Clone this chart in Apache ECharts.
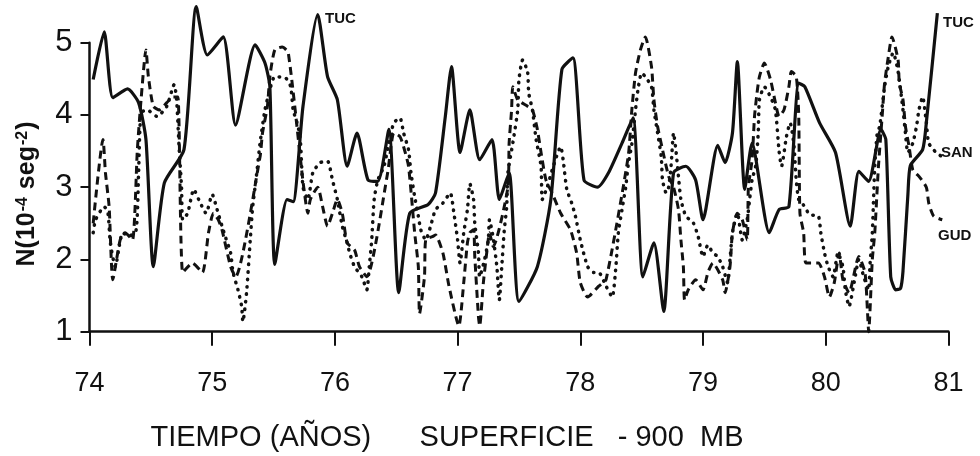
<!DOCTYPE html>
<html>
<head>
<meta charset="utf-8">
<script src="https://cdn.jsdelivr.net/npm/echarts@6/dist/echarts.min.js"></script>
<style>
html,body{margin:0;padding:0;background:#fff;}
#chart{width:980px;height:456px;}
</style>
</head>
<body>
<div id="chart"></div>
<script>
// Years (decimal) and N values (10^-4 seg^-2)
var yTicks = [1, 2, 3, 4, 5];
var xTicks = [74, 75, 76, 77, 78, 79, 80, 81];

var tuc = [
[74.03,4.49],[74.12,5.15],[74.19,4.24],[74.31,4.36],[74.40,4.17],[74.46,3.66],[74.52,1.90],[74.61,3.06],
[74.77,3.52],[74.87,5.50],[74.96,4.83],[75.09,5.08],[75.19,3.86],[75.35,4.97],[75.43,4.72],[75.47,4.39],
[75.51,1.93],[75.61,2.83],[75.66,2.80],[75.74,4.12],[75.86,5.39],[75.94,4.53],[76.02,4.21],[76.10,3.29],
[76.18,3.75],[76.27,3.10],[76.35,3.08],[76.44,3.80],[76.52,1.54],[76.61,2.64],[76.76,2.76],[76.82,2.92],
[76.90,3.98],[76.95,4.67],[77.02,3.48],[77.10,4.07],[77.18,3.38],[77.28,3.66],[77.34,2.83],[77.42,3.20],
[77.50,1.42],[77.65,1.90],[77.76,2.83],[77.85,4.63],[77.94,4.79],[78.03,3.10],[78.14,3.00],[78.23,3.20],
[78.34,3.61],[78.43,3.96],[78.51,1.76],[78.60,2.23],[78.68,1.28],[78.76,3.20],[78.86,3.29],[78.94,3.10],
[79.00,2.55],[79.12,3.58],[79.18,3.34],[79.24,3.75],[79.28,4.74],[79.34,2.97],[79.40,3.61],[79.54,2.37],
[79.62,2.69],[79.70,2.73],[79.78,4.44],[79.83,4.39],[79.95,3.89],[80.08,3.48],[80.20,2.46],[80.27,3.22],
[80.35,3.08],[80.45,3.80],[80.49,3.66],[80.53,1.76],[80.57,1.58],[80.61,1.60],[80.63,1.84],[80.67,2.90],
[80.69,3.30],[80.79,3.52],[80.82,3.89],[80.91,5.41]
];

var san = [
[74.03,2.37],[74.05,2.55],[74.12,2.73],[74.15,2.65],[74.17,2.23],[74.21,1.90],[74.27,2.37],[74.32,2.32],
[74.38,2.41],[74.40,3.20],[74.42,4.03],[74.47,4.07],[74.55,3.98],[74.63,4.12],[74.69,4.42],[74.71,4.21],
[74.73,3.56],[74.75,3.00],[74.76,2.55],[74.80,2.64],[74.85,2.97],[74.89,2.83],[74.95,2.64],[75.00,2.90],
[75.04,2.69],[75.08,2.46],[75.11,2.30],[75.15,2.09],[75.17,1.82],[75.21,1.58],[75.24,1.35],[75.25,1.14],
[75.28,1.54],[75.31,2.27],[75.33,2.73],[75.36,3.15],[75.39,3.61],[75.43,4.07],[75.47,4.35],[75.51,4.53],
[75.60,4.51],[75.64,4.39],[75.66,4.07],[75.70,3.84],[75.72,3.61],[75.74,3.00],[75.78,2.83],[75.82,3.20],
[75.88,3.34],[75.94,3.36],[75.98,3.10],[76.02,2.83],[76.06,2.46],[76.10,2.23],[76.12,2.09],[76.16,1.90],
[76.22,1.76],[76.26,1.58],[76.28,1.90],[76.30,2.27],[76.32,2.83],[76.35,3.10],[76.40,3.29],[76.44,3.61],
[76.48,3.89],[76.53,3.96],[76.56,3.75],[76.60,3.52],[76.62,3.20],[76.65,2.87],[76.68,2.60],[76.70,2.41],
[76.74,2.27],[76.78,2.46],[76.82,2.69],[76.88,2.78],[76.94,2.92],[76.97,2.64],[77.00,2.27],[77.02,1.95],
[77.05,2.37],[77.08,2.69],[77.10,3.05],[77.13,2.83],[77.14,2.50],[77.17,2.09],[77.18,1.76],[77.22,2.00],
[77.25,2.27],[77.26,2.55],[77.29,2.30],[77.32,1.90],[77.34,1.44],[77.36,1.90],[77.38,2.40],[77.40,2.73],
[77.41,3.20],[77.45,3.61],[77.49,4.07],[77.50,4.49],[77.53,4.76],[77.57,4.60],[77.58,4.30],[77.61,4.07],
[77.64,3.66],[77.68,3.29],[77.69,2.83],[77.73,3.00],[77.78,3.29],[77.84,3.56],[77.86,3.38],[77.89,2.97],
[77.93,2.78],[77.96,2.60],[78.00,2.27],[78.06,1.90],[78.11,1.82],[78.15,1.82],[78.21,1.63],[78.26,1.48],
[78.29,1.90],[78.31,2.37],[78.34,2.69],[78.37,3.00],[78.39,3.30],[78.42,3.60],[78.45,4.07],[78.47,4.35],
[78.50,4.58],[78.53,4.53],[78.58,4.39],[78.60,4.07],[78.63,3.75],[78.66,3.42],[78.67,3.10],[78.70,2.92],
[78.72,3.00],[78.74,3.30],[78.76,3.75],[78.78,3.50],[78.80,3.15],[78.82,2.83],[78.86,2.60],[78.92,2.51],
[78.96,2.32],[79.00,2.04],[79.04,2.20],[79.08,2.09],[79.12,2.04],[79.16,1.90],[79.20,1.68],[79.22,2.00],
[79.24,2.37],[79.28,2.64],[79.32,2.27],[79.36,2.55],[79.38,2.83],[79.40,3.10],[79.43,3.30],[79.45,3.75],
[79.46,4.21],[79.50,4.39],[79.55,4.25],[79.59,4.07],[79.62,3.50],[79.64,3.29],[79.68,3.70],[79.71,3.89],
[79.74,3.60],[79.76,3.10],[79.78,2.83],[79.82,2.75],[79.87,2.62],[79.94,2.60],[79.96,2.37],[79.99,2.09],
[80.02,1.90],[80.06,1.76],[80.10,2.09],[80.14,1.90],[80.16,1.58],[80.19,1.35],[80.24,1.76],[80.27,2.00],
[80.31,1.76],[80.35,1.58],[80.36,1.90],[80.38,2.37],[80.39,2.83],[80.40,3.29],[80.42,3.75],[80.44,3.84],
[80.48,4.39],[80.51,4.67],[80.55,4.86],[80.59,4.60],[80.63,4.07],[80.65,3.75],[80.67,3.48],[80.71,3.61],
[80.74,3.84],[80.76,4.07],[80.79,4.25],[80.82,3.90],[80.84,3.61],[80.90,3.48],[80.95,3.42]
];

var gud = [
[74.03,2.50],[74.11,3.66],[74.13,3.20],[74.16,2.73],[74.19,1.72],[74.25,2.27],[74.29,2.37],[74.35,2.27],
[74.39,3.52],[74.42,4.21],[74.46,4.90],[74.48,4.53],[74.52,4.12],[74.57,4.07],[74.63,4.17],[74.68,4.25],
[74.72,4.25],[74.76,1.82],[74.84,1.95],[74.92,1.82],[74.97,2.37],[75.01,2.64],[75.05,2.55],[75.08,2.41],
[75.15,1.90],[75.19,1.76],[75.39,3.42],[75.41,3.75],[75.45,4.12],[75.47,4.53],[75.51,4.90],[75.57,4.94],
[75.62,4.86],[75.74,3.08],[75.78,2.64],[75.80,2.83],[75.86,3.00],[75.90,2.73],[75.94,2.46],[75.98,2.64],
[76.02,2.83],[76.06,2.64],[76.10,2.23],[76.16,2.13],[76.20,1.90],[76.26,1.76],[76.43,3.20],[76.46,3.60],
[76.48,3.75],[76.53,3.70],[76.56,3.56],[76.60,3.29],[76.65,2.37],[76.68,1.90],[76.69,1.25],[76.73,1.76],
[76.74,2.27],[76.80,2.32],[76.82,2.34],[76.88,2.09],[76.93,1.63],[77.01,1.08],[77.05,1.68],[77.08,2.23],
[77.10,2.37],[77.13,2.41],[77.14,2.04],[77.17,1.21],[77.18,1.08],[77.21,1.68],[77.24,2.13],[77.26,2.37],
[77.29,2.18],[77.41,3.00],[77.42,3.61],[77.44,4.07],[77.45,4.39],[77.49,4.21],[77.57,4.12],[77.61,4.07],
[77.65,3.80],[77.68,3.48],[77.72,3.10],[77.77,2.92],[77.84,2.64],[77.92,2.41],[77.97,2.09],[78.00,1.68],
[78.06,1.48],[78.15,1.63],[78.21,1.72],[78.39,3.42],[78.42,4.07],[78.45,4.58],[78.49,4.90],[78.53,5.08],
[78.58,4.67],[78.60,4.21],[78.63,3.84],[78.67,3.52],[78.72,3.15],[78.76,3.00],[78.80,2.69],[78.82,2.27],
[78.84,1.90],[78.85,1.44],[78.88,1.58],[78.94,1.72],[79.00,1.58],[79.04,1.82],[79.08,1.95],[79.16,1.72],
[79.18,1.54],[79.22,1.90],[79.24,2.37],[79.28,2.64],[79.32,2.55],[79.36,2.27],[79.37,3.00],[79.40,3.38],
[79.42,3.98],[79.44,4.30],[79.46,4.53],[79.50,4.72],[79.55,4.49],[79.59,4.17],[79.62,3.98],[79.66,4.07],
[79.70,4.39],[79.72,4.60],[79.76,4.53],[79.78,4.00],[79.79,2.64],[79.82,2.37],[79.84,1.95],[79.94,1.95],
[79.99,1.76],[80.03,1.48],[80.07,1.68],[80.11,2.09],[80.14,1.72],[80.19,1.54],[80.27,2.04],[80.32,1.82],
[80.34,1.30],[80.35,1.00],[80.38,2.00],[80.40,2.37],[80.43,3.29],[80.46,3.98],[80.48,4.44],[80.51,4.80],
[80.54,5.08],[80.59,4.76],[80.60,4.44],[80.63,4.21],[80.65,3.84],[80.68,3.56],[80.71,3.24],[80.76,3.15],
[80.82,3.00],[80.84,2.78],[80.88,2.60],[80.95,2.55]
];

var seriesNames = ['TUC', 'SAN', 'GUD'];
var yAxisTitle = 'N(10{sup|-4} seg{sup|-2})';
var xAxisTitle = 'TIEMPO (A\u00D1OS)      SUPERFICIE   - 900  MB';

var INK = '#111';
var FONT = 'Liberation Sans, Arial, sans-serif';
var chart = echarts.init(document.getElementById('chart'), null, {renderer: 'canvas'});

chart.setOption({
  animation: false,
  backgroundColor: '#fff',
  grid: {left: 89.5, right: 31.6, top: 42.7, bottom: 124.3, containLabel: false},
  xAxis: {
    type: 'value', min: 74, max: 81, interval: 1,
    axisLine: {show: true, lineStyle: {color: INK, width: 2.5}},
    axisTick: {show: true, length: 14, lineStyle: {color: INK, width: 2}},
    axisLabel: {
      color: INK, fontSize: 27, margin: 38, fontFamily: FONT,
      customValues: xTicks,
      formatter: function (v) { return String(Math.round(v)); }
    },
    splitLine: {show: false}
  },
  yAxis: {
    type: 'value', min: 1, max: 5, interval: 1,
    axisLine: {show: true, lineStyle: {color: INK, width: 2.5}},
    axisTick: {show: true, length: 9, lineStyle: {color: INK, width: 2}},
    axisLabel: {
      color: INK, fontSize: 31, margin: 17, fontFamily: FONT,
      customValues: yTicks
    },
    splitLine: {show: false}
  },
  series: [
    {
      name: seriesNames[1], type: 'line', data: san, showSymbol: false, clip: false,
      smooth: 0.2,
      lineStyle: {color: INK, width: 3.5, type: [0.5, 7], cap: 'round'}
    },
    {
      name: seriesNames[2], type: 'line', data: gud, showSymbol: false, clip: false,
      smooth: 0.2,
      lineStyle: {color: INK, width: 3, type: [8, 5], cap: 'butt'}
    },
    {
      name: seriesNames[0], type: 'line', data: tuc, showSymbol: false, clip: false,
      smooth: 0.2,
      lineStyle: {color: INK, width: 3.2}
    }
  ],
  graphic: [
    {type: 'text', x: 325, y: 19, style: {text: seriesNames[0], fill: INK, font: 'bold 15px ' + FONT, textVerticalAlign: 'middle'}},
    {type: 'text', x: 943, y: 23, style: {text: seriesNames[0], fill: INK, font: 'bold 15px ' + FONT, textVerticalAlign: 'middle'}},
    {type: 'text', x: 941, y: 153, style: {text: seriesNames[1], fill: INK, font: 'bold 15px ' + FONT, textVerticalAlign: 'middle'}},
    {type: 'text', x: 938, y: 236, style: {text: seriesNames[2], fill: INK, font: 'bold 15px ' + FONT, textVerticalAlign: 'middle'}},
    {type: 'text', x: 27, y: 194, rotation: Math.PI / 2,
      style: {
        text: yAxisTitle, fill: INK, font: 'bold 25px ' + FONT,
        textAlign: 'center', textVerticalAlign: 'middle',
        rich: {
          sup: {fontSize: 16, fontWeight: 'bold', fontFamily: FONT, verticalAlign: 'top', fill: INK, padding: [0, 1, 0, 1]}
        }
      }},
    {type: 'text', x: 447, y: 438,
      style: {text: xAxisTitle, fill: INK, font: '29px ' + FONT, textAlign: 'center', textVerticalAlign: 'middle'}}
  ]
});
</script>
</body>
</html>
